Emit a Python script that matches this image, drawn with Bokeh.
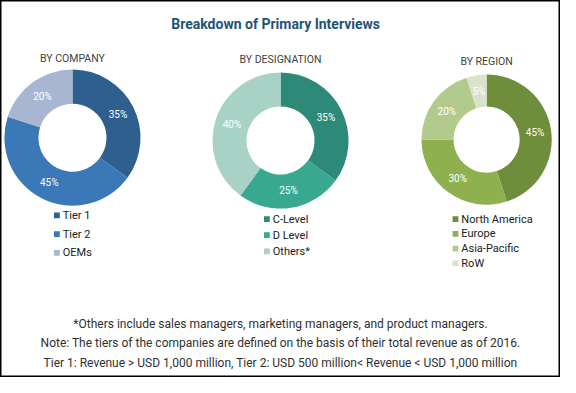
from bokeh.plotting import figure
from bokeh.models import Range1d
from bokeh.core.properties import value
from bokeh.embed import file_html
from bokeh.resources import INLINE
import numpy as np

# ---- data ----
company_labels = ["Tier 1", "Tier 2", "OEMs"]
company_values = [35, 45, 20]
company_colors = ["#2E5F8E", "#3B78B7", "#A8B6D1"]

designation_labels = ["C-Level", "D Level", "Others*"]
designation_values = [35, 25, 40]
designation_colors = ["#2E8A78", "#38A88F", "#A9D2C6"]

region_labels = ["North America", "Europe", "Asia-Pacific", "RoW"]
region_values = [45, 30, 20, 5]
region_colors = ["#6E8E3C", "#8EB04F", "#B2CB8C", "#D9E2CB"]

title_text = "Breakdown of Primary Interviews"
panel_titles = ["BY COMPANY", "BY DESIGNATION", "BY REGION"]
footnotes = [
    "*Others include sales managers, marketing managers, and product managers.",
    "Note: The tiers of the companies are defined on the basis of their total revenue as of 2016.",
    "Tier 1: Revenue > USD 1,000 million, Tier 2: USD 500 million< Revenue < USD 1,000 million",
]

W, H = 576, 393
p = figure(width=560, height=377, x_range=Range1d(0, W), y_range=Range1d(0, H),
           output_backend="svg", toolbar_location=None, min_border=0)
p.axis.visible = False
p.grid.visible = False
p.outline_line_color = "black"
p.outline_line_width = 2
p.background_fill_color = "white"

FONT = value("Roboto")


def Y(y):
    return H - y


p.text(x=[283], y=[Y(25)], text=[title_text], text_font=FONT,
       text_font_style="bold", text_font_size="14px", text_color="#1F5375",
       text_align="center", text_baseline="middle")


def donut(cx, cy, r_out, r_in, vals, cols, labels, title, title_y, leg_x, leg_y0, leg_dy):
    vals = np.array(vals, dtype=float)
    frac = vals / vals.sum()
    cum = np.concatenate([[0], np.cumsum(frac)])
    starts = np.pi / 2 - 2 * np.pi * cum[:-1]
    ends = np.pi / 2 - 2 * np.pi * cum[1:]
    p.annular_wedge(x=cx, y=Y(cy), inner_radius=r_in, outer_radius=r_out,
                    start_angle=list(starts), end_angle=list(ends), direction="clock",
                    fill_color=cols, line_color=None)
    mids = (starts + ends) / 2
    rm = (r_in + r_out) / 2
    lx = cx + rm * np.cos(mids)
    ly = Y(cy) + rm * np.sin(mids)
    p.text(x=list(lx), y=list(ly), text=[f"{int(v)}%" for v in vals],
           text_font=FONT, text_font_size="10px", text_color="white",
           text_align="center", text_baseline="middle")
    p.text(x=[cx], y=[Y(title_y)], text=[title], text_font=FONT, text_font_size="10.5px",
           text_color="#404040", text_align="center", text_baseline="middle")
    ys = [Y(leg_y0 + i * leg_dy) for i in range(len(vals))]
    p.rect(x=[leg_x] * len(vals), y=ys, width=6, height=6, fill_color=cols, line_color=None)
    p.text(x=[leg_x + 6] * len(vals), y=ys, text=labels, text_font=FONT,
           text_font_size="11px", text_color="#202020", text_align="left",
           text_baseline="middle")


donut(74, 143, 70, 35, company_values, company_colors, company_labels,
      panel_titles[0], 60, 58, 224, 19.5)
donut(288, 146, 70, 35, designation_values, designation_colors, designation_labels,
      panel_titles[1], 62, 274, 228, 16.7)
donut(500, 145, 67, 34, region_values, region_colors, region_labels,
      panel_titles[2], 64, 468, 228, 15.3)

p.text(x=[288, 288, 288], y=[Y(337), Y(357), Y(378)], text=footnotes, text_font=FONT,
       text_font_size="12px", text_color="#303030", text_align="center",
       text_baseline="middle")

open("out.html", "w").write(file_html(p, INLINE))
